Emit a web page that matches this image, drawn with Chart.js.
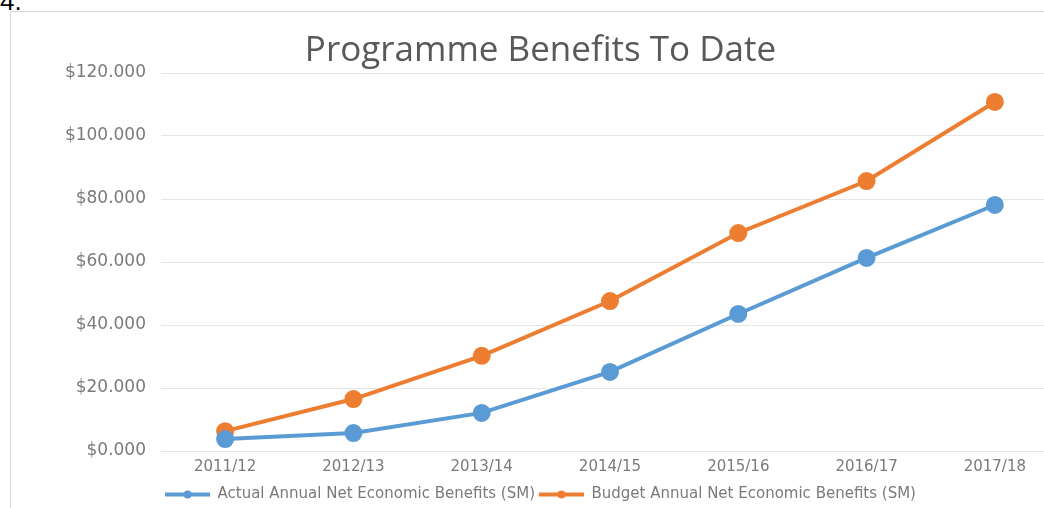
<!DOCTYPE html>
<html>
<head>
<meta charset="utf-8">
<script src="https://cdn.jsdelivr.net/npm/chart.js@4"></script>
<style>
  html, body { margin: 0; padding: 0; background: #fff; overflow: hidden; }
  body { width: 1044px; height: 508px; position: relative; }
  #num { position: absolute; left: 0; top: -14px; font: 26px "Liberation Sans", Arial, sans-serif; color: #000; }
  #frame { position: absolute; left: 10px; top: 11px; width: 1100px; height: 520px; border: 1px solid #d9d9d9; }
  #wrap { position: absolute; left: 11px; top: 12px; width: 1059px; height: 500px; }
</style>
</head>
<body>
<div id="num">4.</div>
<div id="frame"></div>
<div id="wrap"><canvas id="myChart"></canvas></div>
<script>
// years on the x axis
var years = ['2011/12', '2012/13', '2013/14', '2014/15', '2015/16', '2016/17', '2017/18'];
// values in $M
var actualBenefits = [3.8, 5.7, 12.1, 25.1, 43.5, 61.3, 78.1];
var budgetBenefits = [6.3, 16.5, 30.2, 47.6, 69.2, 85.7, 110.8];

var titleFont = "'Open Sans', 'Liberation Sans', sans-serif";
var labelFont = "'DejaVu Sans', 'Liberation Sans', sans-serif";
var textGrey = '#7a7a7a';

// put a dot in the middle of each legend line, like the excel legend
var legendDots = {
  id: 'legendDots',
  afterDraw: function(chart) {
    var legend = chart.legend;
    if (!legend || !legend.legendHitBoxes) return;
    var ctx = chart.ctx;
    legend.legendHitBoxes.forEach(function(box, i) {
      ctx.save();
      ctx.fillStyle = chart.data.datasets[i].borderColor;
      ctx.beginPath();
      ctx.arc(box.left + 22.5, box.top + box.height / 2, 4, 0, Math.PI * 2);
      ctx.fill();
      ctx.restore();
    });
  }
};

function BuildChartBenefits() {
  var ctx = document.getElementById('myChart').getContext('2d');
  var myChart = new Chart(ctx, {
    type: 'line',
    data: {
      labels: years,
      datasets: [{
        label: 'Actual Annual Net Economic Benefits (SM)',
        data: actualBenefits,
        borderColor: '#5B9BD5',
        backgroundColor: '#5B9BD5',
        borderWidth: 4,
        pointRadius: 7,
        pointHoverRadius: 7,
        tension: 0
      }, {
        label: 'Budget Annual Net Economic Benefits (SM)',
        data: budgetBenefits,
        borderColor: '#ED7D31',
        backgroundColor: '#ED7D31',
        borderWidth: 4,
        pointRadius: 7,
        pointHoverRadius: 7,
        tension: 0
      }]
    },
    options: {
      responsive: true,
      maintainAspectRatio: false,
      animation: false,
      layout: { padding: { left: 0, right: 0, top: 0, bottom: 0 } },
      plugins: {
        title: {
          display: true,
          text: 'Programme Benefits To Date',
          color: '#595959',
          font: { family: titleFont, size: 35, weight: 'normal' },
          padding: { top: 18, bottom: 1 }
        },
        legend: {
          position: 'bottom',
          labels: {
            color: textGrey,
            font: { family: labelFont, size: 15 },
            usePointStyle: true,
            pointStyle: 'line',
            pointStyleWidth: 45,
            padding: 4
          }
        },
        tooltip: { enabled: false }
      },
      scales: {
        x: {
          offset: true,
          grid: { display: false, drawTicks: false },
          border: { display: false },
          ticks: { color: textGrey, font: { family: labelFont, size: 15 }, padding: 7 }
        },
        y: {
          min: 0,
          max: 120,
          afterFit: function(axis) { axis.width = 150; }, // plot area starts at x=161
          grid: { color: '#e6e6e6', lineWidth: 1, drawTicks: false },
          border: { display: false },
          ticks: {
            stepSize: 20,
            color: textGrey,
            padding: 15,
            font: { family: labelFont, size: 17 },
            callback: function(v) { return '$' + v.toFixed(3); }
          }
        }
      }
    },
    plugins: [legendDots]
  });
  return myChart;
}
BuildChartBenefits();
</script>
</body>
</html>
